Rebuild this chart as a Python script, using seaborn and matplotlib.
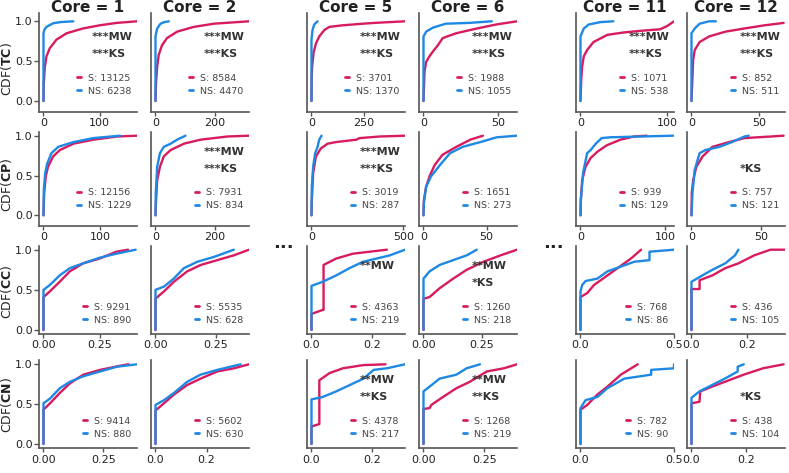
import matplotlib
matplotlib.use("Agg")
import matplotlib.pyplot as plt
import matplotlib.transforms as mtransforms
import seaborn as sns

# ---------------- data ----------------
CORES = [1, 2, 5, 6, 11, 12]
METRICS = ["TC", "CP", "CC", "CN"]

S_COUNTS = {
    "TC": [13125, 8584, 3701, 1988, 1071, 852],
    "CP": [12156, 7931, 3019, 1651, 939, 757],
    "CC": [9291, 5535, 4363, 1260, 768, 436],
    "CN": [9414, 5602, 4378, 1268, 782, 438],
}
NS_COUNTS = {
    "TC": [6238, 4470, 1370, 1055, 538, 511],
    "CP": [1229, 834, 287, 273, 129, 121],
    "CC": [890, 628, 219, 218, 86, 105],
    "CN": [880, 630, 217, 219, 90, 104],
}
MW_SIG = {
    "TC": ["***", "***", "***", "***", "***", "***"],
    "CP": ["", "***", "***", "", "", ""],
    "CC": ["", "", "**", "**", "", ""],
    "CN": ["", "", "**", "**", "", ""],
}
KS_SIG = {
    "TC": ["***", "***", "***", "***", "***", "***"],
    "CP": ["", "***", "***", "", "", "*"],
    "CC": ["", "", "", "*", "", ""],
    "CN": ["", "", "**", "**", "", "*"],
}
X_MAX = {
    "TC": [166, 315, 445, 63, 108, 69],
    "CP": [165, 315, 509, 74, 110, 67],
    "CC": [0.416, 0.389, 0.31, 0.40, 0.5, 0.335],
    "CN": [0.39, 0.366, 0.31, 0.384, 0.5, 0.34],
}
X_TICKS = {
    "TC": [100, 200, 250, 50, 100, 50],
    "CP": [100, 200, 500, 50, 100, 50],
    "CC": [0.25, 0.25, 0.2, 0.25, 0.5, 0.2],
    "CN": [0.25, 0.2, 0.2, 0.25, 0.5, 0.2],
}
X_TICKLABELS = {
    "TC": [["0", "100"], ["0", "200"], ["0", "250"], ["0", "50"], ["0", "100"], ["0", "50"]],
    "CP": [["0", "100"], ["0", "200"], ["0", "500"], ["0", "50"], ["0", "100"], ["0", "50"]],
    "CC": [["0.00", "0.25"], ["0.00", "0.25"], ["0.0", "0.2"], ["0.00", "0.25"], ["0.0", "0.5"], ["0.0", "0.2"]],
    "CN": [["0.00", "0.25"], ["0.0", "0.2"], ["0.0", "0.2"], ["0.00", "0.25"], ["0.0", "0.5"], ["0.0", "0.2"]],
}

# CDF curves: S (red) and NS (blue), one list per core column
TC_S_X = [[0, 0.5, 1.2, 2.4, 5.3, 11, 23, 41, 70, 100, 130, 166],
          [0, 1, 2, 5.6, 11, 22, 39, 73, 129, 197, 315],
          [0, 1, 3, 9.6, 21, 37, 61, 85, 149, 245, 300, 446],
          [0, 0.7, 1.8, 4, 6.3, 9.7, 13, 22, 36, 49, 63],
          [0, 0.8, 1.9, 3.8, 7.7, 15, 31, 50, 69, 92, 100, 104, 108],
          [0, 1.2, 2.4, 6, 13, 25, 39, 54, 68]]
TC_S_Y = [[0, 0.22, 0.30, 0.43, 0.56, 0.66, 0.77, 0.85, 0.91, 0.95, 0.98, 1.0],
          [0, 0.15, 0.24, 0.43, 0.58, 0.70, 0.79, 0.87, 0.93, 0.97, 1.0],
          [0, 0.30, 0.43, 0.60, 0.72, 0.81, 0.89, 0.93, 0.95, 0.97, 0.98, 1.0],
          [0, 0.37, 0.49, 0.56, 0.62, 0.70, 0.79, 0.85, 0.91, 0.96, 1.0],
          [0, 0.26, 0.43, 0.56, 0.64, 0.74, 0.83, 0.86, 0.88, 0.90, 0.94, 0.97, 1.0],
          [0, 0.51, 0.64, 0.74, 0.81, 0.87, 0.91, 0.95, 0.98]]
TC_NS_X = [[0, 0, 2, 5.3, 17, 30, 53],
           [0, 0, 5.6, 17, 30, 45],
           [0, 0, 5, 13, 29],
           [0, 0, 1.8, 6.3, 15, 31, 46],
           [0, 0, 3.8, 9.6, 23, 38],
           [0, 0, 2.4, 6, 13, 18]]
TC_NS_Y = [[0, 0.85, 0.90, 0.93, 0.975, 0.99, 1.0],
           [0, 0.81, 0.91, 0.97, 0.99, 1.0],
           [0, 0.77, 0.89, 0.96, 1.0],
           [0, 0.81, 0.87, 0.92, 0.97, 0.98, 1.0],
           [0, 0.81, 0.91, 0.96, 0.99, 1.0],
           [0, 0.85, 0.91, 0.97, 1.0, 1.0]]

CP_S_X = [[0, 1.2, 4, 8, 17, 29, 53, 88, 130, 165],
          [0, 2, 5.6, 15, 28, 51, 96, 152, 242, 315],
          [0, 1.8, 9, 24, 51, 88, 134, 244, 262, 372, 509],
          [0, 0.3, 2.1, 4.8, 8.8, 15, 26, 37, 47],
          [0, 0.4, 2, 5.9, 12, 20, 31, 47, 63, 78],
          [0, 0.2, 1.2, 3.5, 8, 15, 27, 38, 57, 66]]
CP_S_Y = [[0, 0.28, 0.49, 0.61, 0.74, 0.82, 0.90, 0.95, 0.99, 1.0],
          [0, 0.19, 0.44, 0.61, 0.74, 0.82, 0.90, 0.95, 0.99, 1.0],
          [0, 0.19, 0.53, 0.74, 0.84, 0.90, 0.92, 0.95, 0.97, 0.99, 1.0],
          [0, 0.19, 0.36, 0.49, 0.63, 0.76, 0.86, 0.95, 1.0],
          [0, 0.19, 0.44, 0.61, 0.72, 0.80, 0.88, 0.95, 0.99, 1.0],
          [0, 0.28, 0.44, 0.61, 0.74, 0.86, 0.92, 0.97, 0.99, 1.0]]
CP_NS_X = [[0, 0.6, 3, 6.5, 14, 26, 53, 88, 135],
           [0, 1, 5.6, 15, 28, 51, 73, 101],
           [0, 1.8, 9, 20, 33, 42, 55],
           [0, 0.3, 2.1, 6, 10, 14, 21, 31, 45, 58, 74],
           [0, 0.4, 3, 7.8, 12, 18, 25, 35, 71, 109],
           [0, 0.7, 2.3, 5.8, 10, 20, 29, 38, 41]]
CP_NS_Y = [[0, 0.32, 0.53, 0.65, 0.78, 0.86, 0.92, 0.97, 1.0],
           [0, 0.28, 0.61, 0.78, 0.86, 0.90, 0.95, 1.0],
           [0, 0.36, 0.61, 0.78, 0.86, 0.95, 1.0],
           [0, 0.15, 0.36, 0.49, 0.57, 0.65, 0.78, 0.86, 0.92, 0.98, 1.0],
           [0, 0.19, 0.53, 0.78, 0.82, 0.90, 0.97, 0.98, 0.99, 1.0],
           [0, 0.28, 0.57, 0.78, 0.82, 0.86, 0.92, 0.99, 1.0]]

CC_S_X = [[0, 0, 0.028, 0.072, 0.117, 0.176, 0.25, 0.324, 0.376],
          [0, 0, 0.035, 0.076, 0.132, 0.188, 0.257, 0.326, 0.389],
          [0, 0, 0.037, 0.04, 0.04, 0.082, 0.137, 0.193, 0.25],
          [0, 0, 0.026, 0.069, 0.127, 0.185, 0.257, 0.33, 0.40],
          [0, 0, 0.036, 0.072, 0.144, 0.198, 0.27, 0.324],
          [0, 0, 0.029, 0.029, 0.075, 0.121, 0.168, 0.225, 0.283, 0.335]]
CC_S_Y = [[0, 0.41, 0.48, 0.60, 0.73, 0.83, 0.89, 0.975, 1.0],
          [0, 0.39, 0.48, 0.60, 0.73, 0.81, 0.87, 0.93, 1.0],
          [0, 0.20, 0.25, 0.25, 0.81, 0.89, 0.95, 0.975, 1.0],
          [0, 0.39, 0.41, 0.52, 0.64, 0.75, 0.85, 0.93, 1.0],
          [0, 0.41, 0.46, 0.56, 0.68, 0.77, 0.89, 1.0],
          [0, 0.51, 0.51, 0.62, 0.68, 0.77, 0.83, 0.93, 1.0, 1.0]]
CC_NS_X = [[0, 0, 0.028, 0.072, 0.117, 0.176, 0.25, 0.324, 0.41],
           [0, 0, 0.035, 0.076, 0.118, 0.174, 0.243, 0.326],
           [0, 0, 0.037, 0.082, 0.126, 0.171, 0.216, 0.26, 0.31],
           [0, 0, 0.026, 0.069, 0.127, 0.185, 0.228],
           [0, 0, 0.009, 0.027, 0.09, 0.144, 0.216, 0.288, 0.369, 0.369, 0.5],
           [0, 0, 0.029, 0.075, 0.121, 0.156, 0.168]]
CC_NS_Y = [[0, 0.50, 0.56, 0.68, 0.77, 0.83, 0.90, 0.95, 1.0],
           [0, 0.50, 0.54, 0.64, 0.77, 0.85, 0.91, 1.0],
           [0, 0.55, 0.60, 0.68, 0.77, 0.85, 0.89, 0.93, 1.0],
           [0, 0.64, 0.73, 0.81, 0.87, 0.93, 1.0],
           [0, 0.48, 0.56, 0.61, 0.64, 0.73, 0.79, 0.85, 0.87, 0.975, 1.0],
           [0, 0.60, 0.66, 0.75, 0.83, 0.93, 1.0]]

CN_S_X = [[0, 0, 0.027, 0.068, 0.11, 0.166, 0.236, 0.334, 0.355],
          [0, 0, 0.033, 0.072, 0.124, 0.176, 0.242, 0.307, 0.366],
          [0, 0, 0.026, 0.026, 0.06, 0.104, 0.172, 0.245],
          [0, 0, 0.025, 0.032, 0.08, 0.135, 0.19, 0.26, 0.33, 0.384],
          [0, 0, 0.036, 0.09, 0.144, 0.216, 0.306],
          [0, 0, 0.029, 0.032, 0.075, 0.121, 0.19, 0.26, 0.335]]
CN_S_Y = [[0, 0.43, 0.51, 0.64, 0.76, 0.87, 0.93, 0.99, 1.0],
          [0, 0.42, 0.51, 0.62, 0.74, 0.82, 0.91, 0.95, 1.0],
          [0, 0.22, 0.25, 0.80, 0.89, 0.95, 0.99, 1.0],
          [0, 0.44, 0.45, 0.49, 0.59, 0.70, 0.78, 0.91, 0.95, 1.0],
          [0, 0.43, 0.49, 0.62, 0.72, 0.87, 1.0],
          [0, 0.51, 0.53, 0.66, 0.72, 0.78, 0.87, 0.95, 1.0]]
CN_NS_X = [[0, 0, 0.027, 0.068, 0.11, 0.166, 0.236, 0.306, 0.39],
           [0, 0, 0.033, 0.072, 0.124, 0.176, 0.242, 0.307, 0.333],
           [0, 0, 0.037, 0.082, 0.127, 0.172, 0.206, 0.25, 0.31],
           [0, 0, 0.025, 0.066, 0.135, 0.177, 0.232],
           [0, 0, 0.027, 0.09, 0.144, 0.234, 0.378, 0.378, 0.5, 0.5],
           [0, 0, 0.029, 0.075, 0.121, 0.168, 0.168, 0.19]]
CN_NS_Y = [[0, 0.51, 0.57, 0.70, 0.78, 0.85, 0.91, 0.97, 1.0],
           [0, 0.49, 0.55, 0.64, 0.78, 0.87, 0.93, 0.98, 1.0],
           [0, 0.56, 0.59, 0.66, 0.74, 0.82, 0.93, 0.95, 1.0],
           [0, 0.66, 0.72, 0.82, 0.87, 0.95, 1.0],
           [0, 0.45, 0.55, 0.59, 0.70, 0.82, 0.87, 0.93, 0.95, 1.0],
           [0, 0.58, 0.66, 0.74, 0.82, 0.91, 0.97, 1.0]]

CURVES = {
    "TC": (TC_S_X, TC_S_Y, TC_NS_X, TC_NS_Y),
    "CP": (CP_S_X, CP_S_Y, CP_NS_X, CP_NS_Y),
    "CC": (CC_S_X, CC_S_Y, CC_NS_X, CC_NS_Y),
    "CN": (CN_S_X, CN_S_Y, CN_NS_X, CN_NS_Y),
}

# ---------------- style / layout ----------------
RED = "#D81B60"
BLUE = "#1E88E5"
SPINE = "#555555"

sns.set_style("ticks")
plt.rcParams["font.family"] = ["DejaVu Sans"]
plt.rcParams["mathtext.fontset"] = "dejavusans"

W, H = 789, 473
COL_LEFT = [39, 151, 307, 419, 576, 687]
AX_W = 98
# (spine top px, spine bottom px, y=1 px, y=0 px)
ROW_GEOM = [(13, 112, 21.3, 101.0),
            (131.7, 226, 135.7, 215.3),
            (246, 334, 249.7, 330.0),
            (360, 448.3, 364.3, 444.0)]
YLAB_Y = [0.434, 0.435, 0.48, 0.49]

fig = plt.figure(figsize=(W / 100, H / 100), dpi=100)

for r, m in enumerate(METRICS):
    top, bot, y1, y0 = ROW_GEOM[r]
    span = y0 - y1
    ylo = -(bot - y0) / span
    yhi = 1 + (y1 - top) / span
    sx, sy, nx, ny = CURVES[m]
    for c in range(6):
        ax = fig.add_axes([COL_LEFT[c] / W, 1 - bot / H, AX_W / W, (bot - top) / H])
        sns.lineplot(x=sx[c], y=sy[c], ax=ax, color=RED, lw=1.7, sort=False,
                     estimator=None, label=f"S: {S_COUNTS[m][c]}")
        sns.lineplot(x=nx[c], y=ny[c], ax=ax, color=BLUE, lw=1.7, sort=False,
                     estimator=None, label=f"NS: {NS_COUNTS[m][c]}")
        xmax = X_MAX[m][c]
        ax.set_xlim(-0.048 * xmax, xmax)
        ax.set_ylim(ylo, yhi)
        ax.set_xticks([0, X_TICKS[m][c]])
        ax.set_xticklabels(X_TICKLABELS[m][c])
        ax.set_xlabel("")
        sns.despine(ax=ax)
        for s in ("left", "bottom"):
            ax.spines[s].set_color(SPINE)
            ax.spines[s].set_linewidth(1.2)
        ax.tick_params(axis="x", length=3, width=1, pad=1.5, labelsize=8,
                       color=SPINE, labelcolor="#222222")
        if c == 0:
            ax.set_yticks([0, 0.5, 1.0])
            ax.set_yticklabels(["0.0", "0.5", "1.0"])
            ax.tick_params(axis="y", length=3.5, width=1, pad=1, labelsize=8,
                           color=SPINE, labelcolor="#222222")
            ax.set_ylabel(r"CDF($\bf{" + m + r"}$)", fontsize=9, color="#222222")
            ax.yaxis.set_label_coords(-0.255, YLAB_Y[r])
        else:
            ax.set_yticks([])
            ax.set_ylabel("")
        if r == 0:
            fig.text((COL_LEFT[c] + AX_W / 2) / W, 1 - 0.5 / H, f"Core = {CORES[c]}",
                     ha="center", va="top", fontsize=11, fontweight="bold",
                     color="#222222")
        blend = mtransforms.blended_transform_factory(ax.transAxes, ax.transData)
        leg = ax.legend(loc="lower right", bbox_to_anchor=(0.945, 0.067),
                        bbox_transform=blend, frameon=False, fontsize=6.8,
                        handlelength=0.45, handletextpad=0.75, borderpad=0,
                        borderaxespad=0, labelspacing=0.42, labelcolor="#444444")
        for ln in leg.get_lines():
            ln.set_linewidth(2)
        if MW_SIG[m][c]:
            ax.text(0.54, 0.80, MW_SIG[m][c] + "MW", transform=blend, ha="left",
                    va="center", fontsize=8, fontweight="bold", color="#333333")
        if KS_SIG[m][c]:
            ax.text(0.54, 0.585, KS_SIG[m][c] + "KS", transform=blend, ha="left",
                    va="center", fontsize=8, fontweight="bold", color="#333333")

for xc in (283.7, 553):
    fig.text(xc / W, 1 - 247.5 / H, "...", ha="center", va="baseline",
             fontsize=13, fontweight="bold", color="#222222")

fig.savefig("out.png", dpi=100)
